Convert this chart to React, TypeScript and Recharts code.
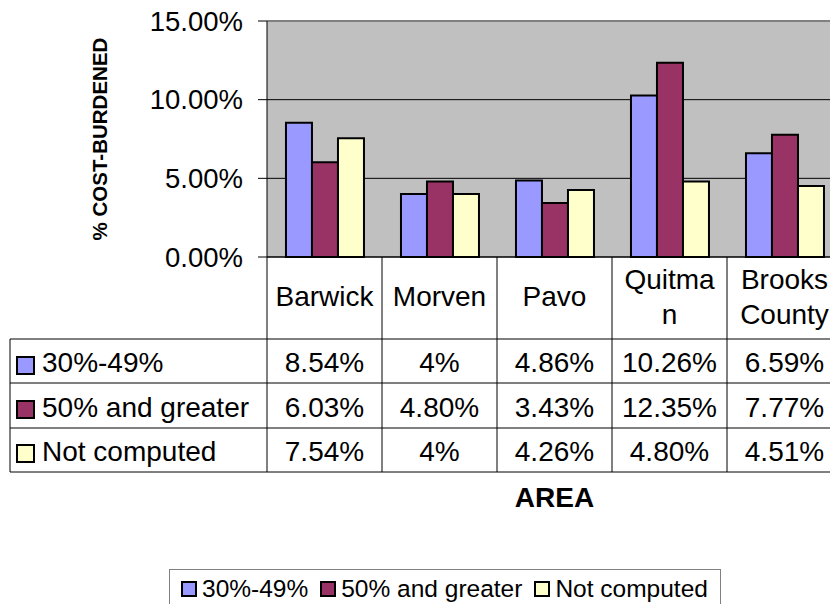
import { BarChart, Bar, XAxis, YAxis, CartesianGrid, ReferenceLine } from 'recharts';

const FONT = '"Liberation Sans", Arial, sans-serif';

const AREAS = ['Barwick', 'Morven', 'Pavo', 'Quitman', 'Brooks County'];
// how the category names wrap inside the data table cells
const AREA_LABEL_LINES = [['Barwick'], ['Morven'], ['Pavo'], ['Quitma', 'n'], ['Brooks', 'County']];

const PCT_30_49 = [8.54, 4, 4.86, 10.26, 6.59];
const PCT_50_UP = [6.03, 4.8, 3.43, 12.35, 7.77];
const PCT_NOT_COMPUTED = [7.54, 4, 4.26, 4.8, 4.51];

const Y_TICKS = [0, 5, 10, 15];

const SERIES = [
  { key: 'lower', name: '30%-49%', values: PCT_30_49, color: '#9999FF' },
  { key: 'upper', name: '50% and greater', values: PCT_50_UP, color: '#993366' },
  { key: 'none', name: 'Not computed', values: PCT_NOT_COMPUTED, color: '#FFFFCC' },
];

const data = AREAS.map((area, i) => ({
  area,
  lower: PCT_30_49[i],
  upper: PCT_50_UP[i],
  none: PCT_NOT_COMPUTED[i],
}));

const BAND = 115;
const HEADER_W = 257;
const TABLE_H = 215;
const ROW_LINES = [82, 126, 171, 215];
const ROW_BASELINES = [115, 159.5, 204];
const ROW_KEY_TOP = [100, 144, 188];

const fmtCell = (v: number) => (Number.isInteger(v) ? `${v}%` : `${v.toFixed(2)}%`);

function TableTick({ x, y, index }: any) {
  const lines = AREA_LABEL_LINES[index] || [];
  const firstBase = lines.length === 1 ? 49 : 32;
  const left = x - BAND / 2;
  const headerLeft = left - HEADER_W;
  return (
    <g>
      {index === 0 && (
        <g>
          <line x1={headerLeft} x2={headerLeft} y1={y + ROW_LINES[0]} y2={y + TABLE_H} stroke="#000" />
          {ROW_LINES.map((r) => (
            <line key={r} x1={headerLeft} x2={left} y1={y + r} y2={y + r} stroke="#000" />
          ))}
          {SERIES.map((s, r) => (
            <g key={s.key}>
              <rect x={headerLeft + 7} y={y + ROW_KEY_TOP[r]} width={17} height={17} fill={s.color} stroke="#000" strokeWidth={2} />
              <text x={headerLeft + 32} y={y + ROW_BASELINES[r]} fontSize={28} fontFamily={FONT} fill="#000">
                {s.name}
              </text>
            </g>
          ))}
        </g>
      )}
      <line x1={left} x2={left} y1={y} y2={y + TABLE_H} stroke="#000" />
      {ROW_LINES.map((r) => (
        <line key={r} x1={left} x2={left + BAND} y1={y + r} y2={y + r} stroke="#000" />
      ))}
      {lines.map((t, k) => (
        <text key={k} x={x} y={y + firstBase + k * 35} textAnchor="middle" fontSize={28} fontFamily={FONT} fill="#000">
          {t}
        </text>
      ))}
      {SERIES.map((s, r) => (
        <text key={s.key} x={x} y={y + ROW_BASELINES[r]} textAnchor="middle" fontSize={28} fontFamily={FONT} fill="#000">
          {fmtCell(s.values[index])}
        </text>
      ))}
    </g>
  );
}

const renderYTitle = ({ viewBox }: any) => {
  const cy = viewBox.y + viewBox.height / 2;
  return (
    <text
      x={107}
      y={cy}
      transform={`rotate(-90, 107, ${cy})`}
      textAnchor="middle"
      fontSize={20.5}
      fontWeight="bold"
      fontFamily={FONT}
      fill="#000"
    >
      % COST-BURDENED
    </text>
  );
};

const renderXTitle = ({ viewBox }: any) => (
  <text
    x={viewBox.x + viewBox.width / 2}
    y={viewBox.y + viewBox.height + 35}
    textAnchor="middle"
    fontSize={28}
    fontWeight="bold"
    fontFamily={FONT}
    fill="#000"
  >
    AREA
  </text>
);

export default function App() {
  return (
    <div style={{ position: 'absolute', left: 0, top: 0, width: 830, height: 604, background: '#fff', overflow: 'hidden' }}>
      <BarChart
        width={830}
        height={604}
        data={data}
        margin={{ top: 21, right: -12, left: 0, bottom: 132 }}
        barCategoryGap="16.5%"
        barGap={0}
      >
        <CartesianGrid vertical={false} fill="#C0C0C0" fillOpacity={1} stroke="#000" />
        <ReferenceLine y={15} stroke="#808080" strokeWidth={2} />
        <XAxis
          dataKey="area"
          height={TABLE_H}
          interval={0}
          tickLine={false}
          tickSize={0}
          tickMargin={0}
          axisLine={{ stroke: '#000' }}
          tick={<TableTick />}
          label={{ content: renderXTitle }}
        />
        <YAxis
          width={267}
          domain={[0, 15]}
          ticks={Y_TICKS}
          interval={0}
          tickFormatter={(v: number) => `${v.toFixed(2)}%`}
          tick={{ fontSize: 27.5, fill: '#000', fontFamily: FONT }}
          tickSize={9}
          tickMargin={15}
          axisLine={{ stroke: '#000' }}
          tickLine={{ stroke: '#000' }}
          label={{ content: renderYTitle }}
        />
        {SERIES.map((s) => (
          <Bar key={s.key} dataKey={s.key} name={s.name} fill={s.color} stroke="#000" strokeWidth={2} isAnimationActive={false} />
        ))}
      </BarChart>
      <div
        style={{
          position: 'absolute',
          left: 169,
          top: 569,
          width: 552,
          height: 40,
          border: '1px solid #808080',
          boxSizing: 'border-box',
          display: 'flex',
          alignItems: 'center',
          paddingLeft: 11,
          fontFamily: FONT,
          fontSize: 24.5,
          color: '#000',
        }}
      >
        {SERIES.map((s) => (
          <span key={s.key} style={{ display: 'flex', alignItems: 'center', marginRight: 12 }}>
            <span
              style={{
                display: 'inline-block',
                width: 16,
                height: 16,
                background: s.color,
                border: '2px solid #000',
                boxSizing: 'border-box',
                marginRight: 5,
              }}
            />
            {s.name}
          </span>
        ))}
      </div>
    </div>
  );
}
